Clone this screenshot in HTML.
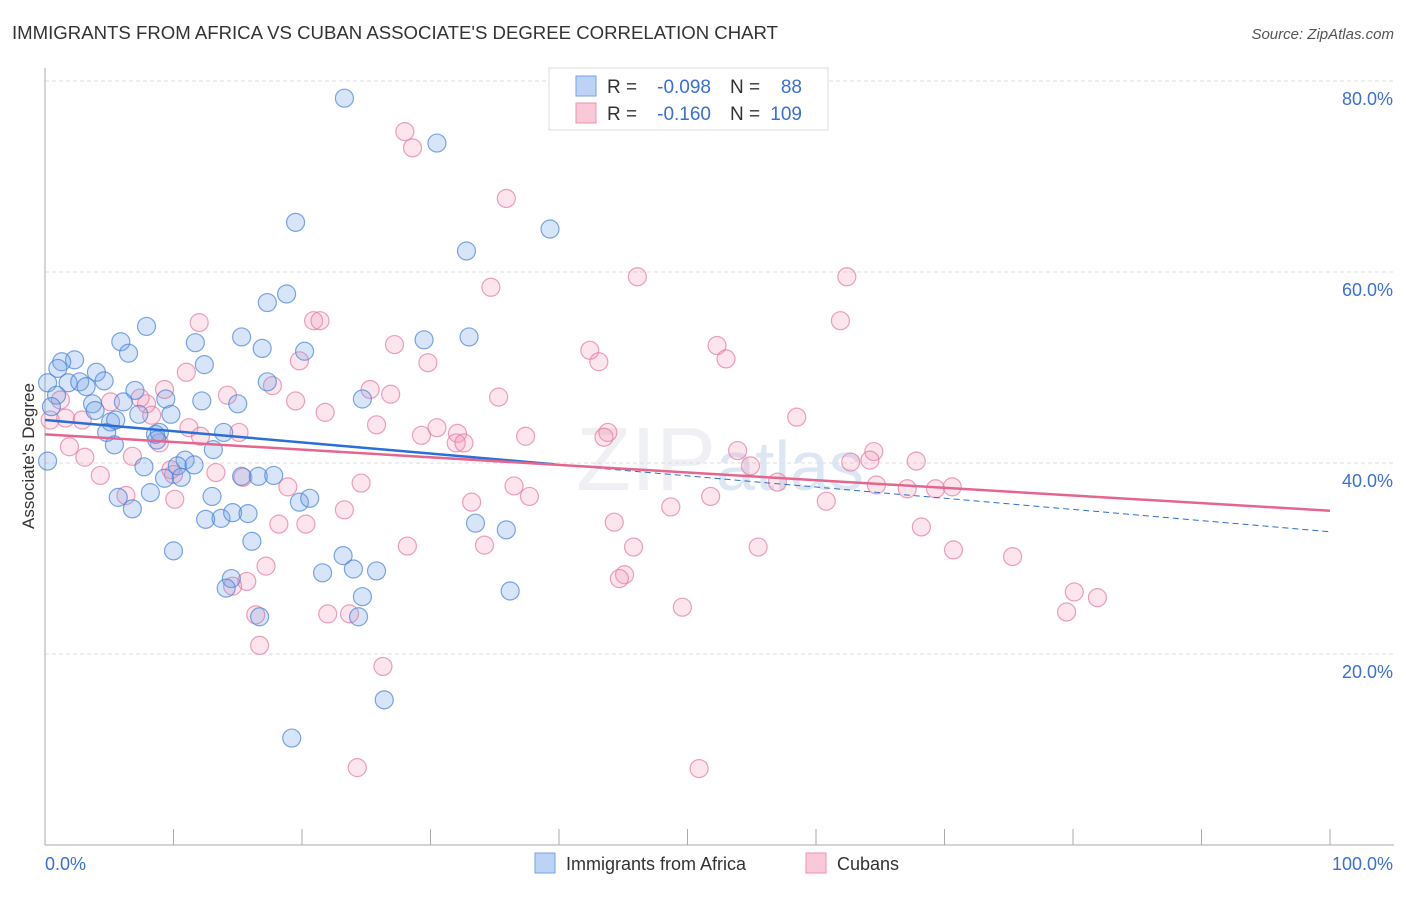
<!DOCTYPE html>
<html><head><meta charset="utf-8"><style>
body{margin:0;background:#fff;font-family:"Liberation Sans",sans-serif;}
svg text{font-family:"Liberation Sans",sans-serif;}
</style></head><body>
<svg id="chart" width="1406" height="892">
<text x="12" y="39" font-size="18.6" fill="#333">IMMIGRANTS FROM AFRICA VS CUBAN ASSOCIATE'S DEGREE CORRELATION CHART</text>
<text x="1394" y="39" font-size="15" fill="#555" text-anchor="end" font-style="italic">Source: ZipAtlas.com</text>
<text x="720" y="490" font-size="90" fill="#eef0f3" text-anchor="middle" font-family="Liberation Serif">ZIP<tspan font-family="Liberation Sans" fill="#dde6f3" font-size="70">atlas</tspan></text>
<g id="grid"></g>
<g id="axes"></g>
<g id="pts"></g>
<g id="trends"></g>
<text transform="translate(34,456) rotate(-90)" font-size="17" fill="#333" text-anchor="middle">Associate's Degree</text>
<g>
<rect x="549" y="68" width="279" height="62" fill="#fff" stroke="#ddd"/>
<rect x="576" y="76" width="20" height="20" fill="#bcd3f5" stroke="#7aa3e6"/>
<rect x="576" y="103" width="20" height="20" fill="#f9c9d8" stroke="#ee93b0"/>
<text x="607" y="93" font-size="19" fill="#333">R =</text>
<text x="711" y="93" font-size="19" fill="#3a6fd8" text-anchor="end">-0.098</text>
<text x="730" y="93" font-size="19" fill="#333">N =</text>
<text x="802" y="93" font-size="19" fill="#3a6fd8" text-anchor="end">88</text>
<text x="607" y="120" font-size="19" fill="#333">R =</text>
<text x="711" y="120" font-size="19" fill="#3a6fd8" text-anchor="end">-0.160</text>
<text x="730" y="120" font-size="19" fill="#333">N =</text>
<text x="802" y="120" font-size="19" fill="#3a6fd8" text-anchor="end">109</text>
</g>
<g>
<rect x="535" y="853" width="20" height="20" fill="#bcd3f5" stroke="#7aa3e6"/>
<text x="566" y="870" font-size="18" fill="#333">Immigrants from Africa</text>
<rect x="806" y="853" width="20" height="20" fill="#f9c9d8" stroke="#ee93b0"/>
<text x="837" y="870" font-size="18" fill="#333">Cubans</text>
</g>
</svg>
<script>
const yTicks=[20,40,60,80];
const yTickLabels=["20.0%","40.0%","60.0%","80.0%"];
const xTickLabels=["0.0%","100.0%"];
const blueX=[23.3,30.5,19.5,32.8,39.3,18.8,17.3,7.9,15.3,16.9,20.2,29.5,33.0,5.9,6.5,11.7,2.3,1.3,1.0,4.0,12.4,4.6,1.8,2.7,3.2,17.3,7.0,9.4,12.2,6.1,15.0,3.7,24.7,7.3,9.8,5.1,4.8,13.9,8.6,8.9,8.7,0.2,5.4,10.9,13.1,7.7,10.3,11.6,10.6,9.3,8.2,5.7,6.8,13.0,15.3,16.6,17.8,19.8,20.6,12.5,13.7,14.6,15.8,16.1,33.5,35.9,10.0,23.2,24.0,25.8,21.6,14.5,14.1,16.7,24.7,24.4,36.2,26.4,19.2,0.2,0.9,0.5,3.9,5.5];
const blueY=[78.2,73.5,65.2,62.2,64.5,57.7,56.8,54.3,53.2,52.0,51.7,52.9,53.2,52.7,51.5,52.6,50.8,50.6,49.9,49.5,50.3,48.6,48.4,48.5,48.0,48.5,47.6,46.7,46.5,46.4,46.2,46.2,46.7,45.1,45.1,44.3,43.2,43.2,43.0,43.2,42.4,40.2,41.9,40.3,41.4,39.6,39.7,39.8,38.5,38.4,36.9,36.4,35.2,36.5,38.6,38.6,38.7,35.9,36.3,34.1,34.2,34.8,34.7,31.8,33.7,33.0,30.8,30.3,28.9,28.7,28.5,27.9,26.9,23.9,26.0,23.9,26.6,15.2,11.2,48.4,47.1,45.9,45.5,44.5];
const pinkX=[28.0,28.6,35.9,34.7,46.1,62.4,61.9,12.0,20.9,21.4,27.2,42.4,52.3,53.0,19.8,29.8,43.1,11.0,9.3,17.7,25.3,26.9,35.3,7.9,7.4,19.5,14.2,5.1,1.2,1.6,2.9,21.8,25.8,30.5,29.3,32.1,32.0,37.4,43.8,43.5,58.5,11.2,12.1,15.1,1.9,3.1,6.8,8.9,4.3,9.8,10.0,13.3,15.4,32.6,53.9,54.9,62.7,64.5,64.2,67.8,24.6,18.9,36.5,57.0,64.7,67.1,69.3,70.6,10.1,6.3,33.2,37.7,51.8,48.7,60.8,23.3,18.2,20.3,44.3,68.2,28.2,34.2,45.8,55.5,70.7,75.3,17.2,45.1,44.7,15.7,14.6,22.0,23.7,16.4,49.6,79.5,80.1,81.9,16.7,26.3,24.3,50.9,0.4,8.3];
const pinkY=[74.7,73.0,67.7,58.4,59.5,59.5,54.9,54.7,54.9,54.9,52.4,51.8,52.3,50.9,50.7,50.5,50.6,49.5,47.7,48.1,47.7,47.2,46.9,46.2,46.8,46.5,47.1,46.4,46.6,44.7,44.5,45.3,44.0,43.7,42.9,43.1,42.1,42.8,43.2,42.7,44.8,43.7,42.8,43.2,41.7,40.6,40.7,42.1,38.7,39.3,38.8,39.0,38.5,42.1,41.3,39.7,40.1,41.2,40.3,40.2,37.9,37.5,37.6,38.0,37.7,37.3,37.3,37.5,36.2,36.6,35.9,36.5,36.5,35.4,36.0,35.1,33.6,33.6,33.8,33.3,31.3,31.4,31.2,31.2,30.9,30.2,29.2,28.3,27.9,27.6,27.1,24.2,24.2,24.1,24.9,24.4,26.5,25.9,20.9,18.7,8.1,8.0,44.5,45.0];
const blueTrend=[44.5,32.8];
const pinkTrend=[43.0,35.0];
const blueSolidEnd=39.7;

const NS="http://www.w3.org/2000/svg";
const X0=45,X1=1330,Y0=845,YS=9.55;
function sx(v){return X0+(X1-X0)*v/100;}
function sy(v){return Y0-v*YS;}
function mk(tag,attrs,parent){const e=document.createElementNS(NS,tag);for(const k in attrs)e.setAttribute(k,attrs[k]);parent.appendChild(e);return e;}
const grid=document.getElementById('grid'),axes=document.getElementById('axes'),pts=document.getElementById('pts'),tr=document.getElementById('trends');
yTicks.forEach((t,i)=>{
 const l=mk('line',{x1:X0,x2:1394,y1:sy(t),y2:sy(t),stroke:'#ddd','stroke-dasharray':'4,3'},grid);
 
 
 const tx=mk('text',{x:1393,y:sy(t)+24,'font-size':18,fill:'#3a6fd8','text-anchor':'end'},axes);
 tx.textContent=yTickLabels[i];
 
 
});
const ya=mk('line',{x1:X0,x2:X0,y1:68,y2:Y0,stroke:'#aaa'},axes);


const xa=mk('line',{x1:X0,x2:1394,y1:Y0,y2:Y0,stroke:'#aaa'},axes);


for(let i=0;i<=10;i++){
 const t=mk('line',{x1:sx(i*10),x2:sx(i*10),y1:Y0-16,y2:Y0,stroke:'#aaa'},axes);
 
 
}
[[0,'start',X0],[1,'end',1393]].forEach(([i,a,x])=>{
 const tx=mk('text',{x:x,y:870,'font-size':18,fill:'#3a6fd8','text-anchor':a},axes);
 tx.textContent=xTickLabels[i];
 
 
});
function dots(xs,ys,fill,stroke,name){
 xs.forEach((x,i)=>{
  const c=mk('circle',{cx:sx(x),cy:sy(ys[i]),r:9,fill:fill,stroke:stroke,'stroke-width':1.2},pts);
  
  
 });
}
dots(pinkX,pinkY,'rgba(244,150,180,0.25)','rgba(230,120,160,0.7)','cubans-point');
dots(blueX,blueY,'rgba(110,160,230,0.27)','rgba(70,130,220,0.7)','africa-point');
function ty(tv,x){return tv[0]+(tv[1]-tv[0])*x/100;}
const b1=mk('line',{x1:sx(0),y1:sy(ty(blueTrend,0)),x2:sx(blueSolidEnd),y2:sy(ty(blueTrend,blueSolidEnd)),stroke:'#2a6fd6','stroke-width':2.5},tr);


const b2=mk('line',{x1:sx(blueSolidEnd),y1:sy(ty(blueTrend,blueSolidEnd)),x2:sx(100),y2:sy(ty(blueTrend,100)),stroke:'#2a6fd6','stroke-width':1,'stroke-dasharray':'6,4'},tr);


const p1=mk('line',{x1:sx(0),y1:sy(ty(pinkTrend,0)),x2:sx(100),y2:sy(ty(pinkTrend,100)),stroke:'#e4668f','stroke-width':2.5},tr);


</script>
</body></html>
